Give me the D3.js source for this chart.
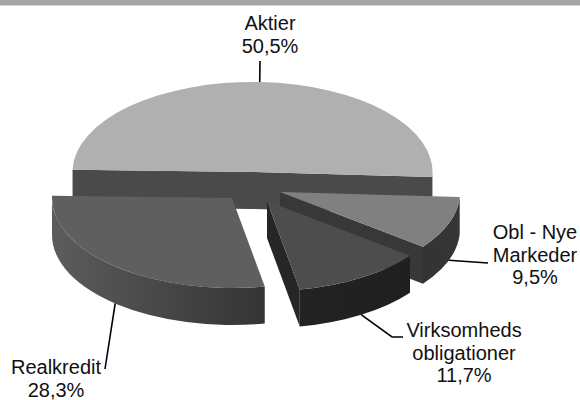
<!DOCTYPE html>
<html>
<head>
<meta charset="utf-8">
<script src="https://cdnjs.cloudflare.com/ajax/libs/d3/7.8.5/d3.min.js"></script>
<style>
  html, body { margin: 0; padding: 0; background: #fff; }
  text { font-family: "Liberation Sans", Arial, sans-serif; font-size: 20px; fill: #111; }
</style>
</head>
<body>
<div class="container"></div>
<script>
const WIDTH = 580;
const HEIGHT = 400;

// data, in the order the slices run clockwise
const categories = ["Aktier", "Obl - Nye Markeder", "Virksomheds obligationer", "Realkredit"];
const shares = [50.5, 9.5, 11.7, 28.3];
const shareLabels = ["50,5%", "9,5%", "11,7%", "28,3%"];

// style per slice
const topColors = ["#b0b0b0", "#808080", "#4d4d4d", "#5f5f5f"];
const cutColors = ["#4a4a4a", "#383838", "#262626", "#3a3a3a"];
const wallColors = [["#4a4a4a", "#4a4a4a"], ["#333333", "#363636"], ["#232323", "#1f1f1f"], ["#5c5c5c", "#343434"]];

// layout per slice
const sliceCentres = [[252.5, 172], [280, 192], [267, 201], [232, 198]];
const labelLines = [["Aktier"], ["Obl - Nye", "Markeder"], ["Virksomheds", "obligationer"], ["Realkredit"]];
const labelAnchors = [[270, 30], [535, 239], [464, 337], [56, 374]];
const leaderEnds = [[[260, 61]], [[488, 263]], [[392, 337], [403, 337]], [[105, 369]]];

const RX = 180;
const RY = 90;
const DEPTH = 37;
const START_ANGLE = -88.6 * Math.PI / 180;

var translate = function(x, y){
    return "translate(" + x + "," + y + ")";
};

// angle 0 is twelve o'clock, clockwise, same as d3.arc
var rimPoint = function(angle, i){
    return [sliceCentres[i][0] + RX * Math.sin(angle), sliceCentres[i][1] - RY * Math.cos(angle)];
};

var pie = d3.pie()
    .sort(null)
    .startAngle(START_ANGLE)
    .endAngle(START_ANGLE + 2 * Math.PI);

var arcs = pie(shares);

var arc = d3.arc().innerRadius(0).outerRadius(RX);

var svg = d3.select(".container").append("svg")
    .attr("width", WIDTH)
    .attr("height", HEIGHT)
    .style("display", "block");

var defs = svg.append("defs");

wallColors.forEach(function(c, i){
    var g = defs.append("linearGradient").attr("id", "wall" + i);
    g.append("stop").attr("offset", "0%").attr("stop-color", c[0]);
    g.append("stop").attr("offset", "100%").attr("stop-color", c[1]);
});

// top bar of the page the chart was cut from
svg.append("rect")
    .attr("width", WIDTH)
    .attr("height", 5.5)
    .attr("fill", "#a6a6a6");

// outer wall, only the part of the rim facing the viewer
var wallPath = function(a, i){
    var a0 = Math.max(a.startAngle, Math.PI / 2);
    var a1 = Math.min(a.endAngle, 3 * Math.PI / 2);
    if (a1 <= a0) return null;
    var p0 = rimPoint(a0, i);
    var p1 = rimPoint(a1, i);
    return "M" + p0[0] + "," + p0[1] +
        "A" + RX + "," + RY + " 0 0 1 " + p1[0] + "," + p1[1] +
        "L" + p1[0] + "," + (p1[1] + DEPTH) +
        "A" + RX + "," + RY + " 0 0 0 " + p0[0] + "," + (p0[1] + DEPTH) + "Z";
};

// cut faces, as one band through the points of the given radii and the centre
var cutPath = function(angles, i){
    var c = sliceCentres[i];
    var pts = [];
    angles.forEach(function(angle, k){
        if (k > 0) pts.push(c);
        pts.push(rimPoint(angle, i));
    });
    var lower = pts.map(function(p){ return [p[0], p[1] + DEPTH]; }).reverse();
    if (angles.length === 1) {
        pts.unshift(c);
        lower.push([c[0], c[1] + DEPTH]);
    }
    return line(pts.concat(lower)) + "Z";
};

var line = d3.line();

var drawSlice = function(i){
    var a = arcs[i];
    var g = svg.append("g");

    if (i === 0) {
        // big back slice shows both cut faces
        g.append("path").attr("d", cutPath([a.startAngle, a.endAngle], i)).attr("fill", cutColors[i]);
    }
    if (i === 1 || i === 2) {
        // these two show the cut on their clockwise side
        g.append("path").attr("d", cutPath([a.endAngle], i)).attr("fill", cutColors[i]);
    }

    var wall = wallPath(a, i);
    if (wall) {
        g.append("path").attr("d", wall).attr("fill", "url(#wall" + i + ")");
    }

    g.append("path")
        .attr("d", arc(a))
        .attr("transform", translate(sliceCentres[i][0], sliceCentres[i][1]) + " scale(1," + (RY / RX) + ")")
        .attr("fill", topColors[i]);
};

// back to front
[0, 1, 3, 2].forEach(drawSlice);

arcs.forEach(function(a, i){
    var mid = (a.startAngle + a.endAngle) / 2;
    var start = rimPoint(mid, i);
    if (i > 0) start[1] += DEPTH;

    svg.append("path")
        .attr("d", line([start].concat(leaderEnds[i])))
        .attr("fill", "none")
        .attr("stroke", "#000")
        .attr("stroke-width", 1.6);

    var label = svg.append("text")
        .attr("text-anchor", "middle")
        .attr("transform", translate(labelAnchors[i][0], labelAnchors[i][1]));

    label.selectAll("tspan")
        .data(labelLines[i].concat(shareLabels[i]))
        .enter()
        .append("tspan")
        .attr("x", 0)
        .attr("y", function(d, j){ return j * 22.6; })
        .text(function(d){ return d; });
});
</script>
</body>
</html>
